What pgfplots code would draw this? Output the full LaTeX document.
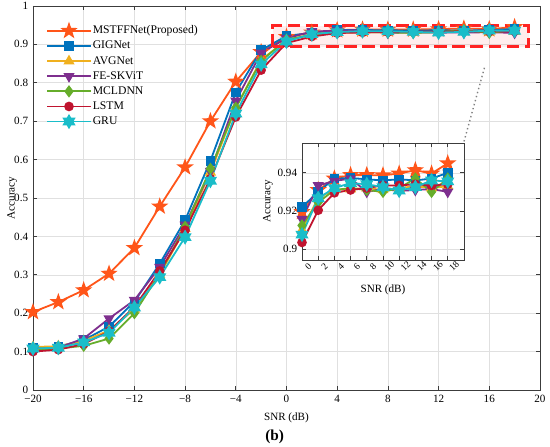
\documentclass[border=0pt]{standalone}
\usepackage{fontspec}
\setmainfont{Liberation Serif}
\usepackage{pgfplots}
\usepackage{pgfplotstable}
\pgfplotsset{compat=1.18}

\definecolor{cMST}{RGB}{255,85,25}
\definecolor{cGIG}{RGB}{0,114,189}
\definecolor{cAVG}{RGB}{240,176,30}
\definecolor{cFES}{RGB}{126,47,142}
\definecolor{cMCL}{RGB}{102,173,43}
\definecolor{cLST}{RGB}{192,20,47}
\definecolor{cGRU}{RGB}{26,189,201}
\definecolor{axgray}{RGB}{60,60,60}

\pgfdeclareplotmark{pentagram}{%
  \pgfpathmoveto{\pgfpointpolar{90}{\pgfplotmarksize}}%
  \pgfpathlineto{\pgfpointpolar{126}{0.40\pgfplotmarksize}}%
  \pgfpathlineto{\pgfpointpolar{162}{\pgfplotmarksize}}%
  \pgfpathlineto{\pgfpointpolar{198}{0.40\pgfplotmarksize}}%
  \pgfpathlineto{\pgfpointpolar{234}{\pgfplotmarksize}}%
  \pgfpathlineto{\pgfpointpolar{270}{0.40\pgfplotmarksize}}%
  \pgfpathlineto{\pgfpointpolar{306}{\pgfplotmarksize}}%
  \pgfpathlineto{\pgfpointpolar{342}{0.40\pgfplotmarksize}}%
  \pgfpathlineto{\pgfpointpolar{18}{\pgfplotmarksize}}%
  \pgfpathlineto{\pgfpointpolar{54}{0.40\pgfplotmarksize}}%
  \pgfpathclose
  \pgfusepathqfillstroke}
\pgfdeclareplotmark{hexagram}{%
  \pgfpathmoveto{\pgfpointpolar{90}{\pgfplotmarksize}}%
  \pgfpathlineto{\pgfpointpolar{120}{0.577\pgfplotmarksize}}%
  \pgfpathlineto{\pgfpointpolar{150}{\pgfplotmarksize}}%
  \pgfpathlineto{\pgfpointpolar{180}{0.577\pgfplotmarksize}}%
  \pgfpathlineto{\pgfpointpolar{210}{\pgfplotmarksize}}%
  \pgfpathlineto{\pgfpointpolar{240}{0.577\pgfplotmarksize}}%
  \pgfpathlineto{\pgfpointpolar{270}{\pgfplotmarksize}}%
  \pgfpathlineto{\pgfpointpolar{300}{0.577\pgfplotmarksize}}%
  \pgfpathlineto{\pgfpointpolar{330}{\pgfplotmarksize}}%
  \pgfpathlineto{\pgfpointpolar{0}{0.577\pgfplotmarksize}}%
  \pgfpathlineto{\pgfpointpolar{30}{\pgfplotmarksize}}%
  \pgfpathlineto{\pgfpointpolar{60}{0.577\pgfplotmarksize}}%
  \pgfpathclose
  \pgfusepathqfillstroke}

\pgfplotstableread{
x   mst    gig    avg    fes    mcl    lstm   gru
-20 0.203  0.110  0.112  0.105  0.105  0.100  0.108
-18 0.229  0.113  0.114  0.110  0.108  0.105  0.110
-16 0.260  0.130  0.128  0.134  0.115  0.120  0.124
-14 0.303  0.165  0.155  0.186  0.134  0.153  0.149
-12 0.370  0.230  0.210  0.234  0.200  0.216  0.215
-10 0.478  0.329  0.300  0.320  0.303  0.310  0.294
-8  0.580  0.442  0.420  0.430  0.425  0.416  0.398
-6  0.700  0.597  0.567  0.570  0.576  0.550  0.545
-4  0.803  0.775  0.735  0.753  0.735  0.711  0.720
-2  0.880  0.885  0.860  0.878  0.857  0.833  0.848
0   0.9195 0.9220 0.9100 0.9157 0.9124 0.9035 0.9076
2   0.9310 0.9300 0.9270 0.9334 0.9245 0.9204 0.9267
4   0.9370 0.9370 0.9310 0.9357 0.9310 0.9295 0.9320
6   0.9388 0.9373 0.9315 0.9370 0.9320 0.9310 0.9346
8   0.9388 0.9366 0.9320 0.9300 0.9310 0.9320 0.9340
10  0.9387 0.9360 0.9310 0.9315 0.9300 0.9334 0.9325
12  0.9396 0.9366 0.9320 0.9305 0.9320 0.9334 0.9307
14  0.9414 0.9360 0.9330 0.9310 0.9370 0.9340 0.9325
16  0.9396 0.9370 0.9320 0.9315 0.9300 0.9334 0.9360
18  0.9450 0.9400 0.9330 0.9300 0.9370 0.9340 0.9355
}\data

\pgfplotsset{
  every axis/.append style={
    /pgf/number format/assume math mode=true,
    tick label style={font=\fontsize{8}{9.6}\selectfont},
    label style={font=\fontsize{8}{9.6}\selectfont},
    axis line style={axgray, line width=0.5pt},
    tick style={axgray, line width=0.5pt},
    tick align=inside,
    major tick length=3pt,
    grid=major,
    grid style={black!12, line width=0.4pt},
  },
  sMST/.style={color=cMST, line width=1.3pt, mark=pentagram, mark size=4.6pt, mark options={fill=cMST}},
  sGIG/.style={color=cGIG, line width=1.3pt, mark=square*, mark size=2.8pt, mark options={fill=cGIG}},
  sAVG/.style={color=cAVG, line width=1.3pt, mark=triangle*, mark size=3.4pt, mark options={fill=cAVG}},
  sFES/.style={color=cFES, line width=1.3pt, mark=triangle*, mark size=3.4pt, mark options={fill=cFES, rotate=180}},
  sMCL/.style={color=cMCL, line width=1.3pt, mark=diamond*, mark size=3.4pt, mark options={fill=cMCL}},
  sLST/.style={color=cLST, line width=1.3pt, mark=*, mark size=2.8pt, mark options={fill=cLST}},
  sGRU/.style={color=cGRU, line width=1.3pt, mark=hexagram, mark size=4.2pt, mark options={fill=cGRU}},
}

\begin{document}
\begin{tikzpicture}
\useasboundingbox (0,0) rectangle (396pt,321.12pt);
\begin{axis}[
  at={(23.76pt,40.32pt)}, anchor=south west,
  scale only axis, width=365pt, height=276.5pt,
  xmin=-20, xmax=20, ymin=0, ymax=1,
  xtick={-20,-16,...,20},
  xticklabels={−20,−16,−12,−8,−4,0,4,8,12,16,20},
  ytick={0,0.1,...,1.01},
  yticklabels={0,0.1,0.2,0.3,0.4,0.5,0.6,0.7,0.8,0.9,1},
  xlabel={SNR (dB)}, ylabel={Accuracy},
  xlabel style={at={(axis description cs:0.5,-0.073)}, anchor=center},
  ylabel style={at={(axis description cs:-0.041,0.5)}, anchor=center},
  legend style={at={(axis description cs:0.018,0.96)}, anchor=north west,
    draw=none, fill=none, font=\fontsize{8.4}{9}\selectfont,
    row sep=1.8pt, nodes={inner sep=1pt}},
  legend cell align=left,
  legend image code/.code={\draw[mark repeat=2,mark phase=2,#1] plot coordinates {(0pt,0pt) (15.5pt,0pt) (31pt,0pt)};},
]
\fill[red, fill opacity=0.07] (axis cs:-1.1,0.894) rectangle (axis cs:19.1,0.948);
\addplot[sMST] table[x=x,y=mst] {\data};
\addlegendentry{MSTFFNet(Proposed)}
\addplot[sGIG] table[x=x,y=gig] {\data};
\addlegendentry{GIGNet}
\addplot[sAVG] table[x=x,y=avg] {\data};
\addlegendentry{AVGNet}
\addplot[sFES] table[x=x,y=fes] {\data};
\addlegendentry{FE-SKViT}
\addplot[sMCL] table[x=x,y=mcl] {\data};
\addlegendentry{MCLDNN}
\addplot[sLST] table[x=x,y=lstm] {\data};
\addlegendentry{LSTM}
\addplot[sGRU] table[x=x,y=gru] {\data};
\addlegendentry{GRU}
\draw[color={rgb,255:red,255;green,35;blue,35}, line width=2.2pt, dash pattern=on 9pt off 4pt] (axis cs:-1.1,0.894) rectangle (axis cs:19.1,0.948);
\draw[gray, line width=1pt, dotted] (axis cs:15.62,0.839) -- (axis cs:13.96,0.6416);
\end{axis}

\begin{axis}[
  at={(217.44pt,133.92pt)}, anchor=south west,
  scale only axis, width=116.6pt, height=84.2pt,
  axis background/.style={fill=white},
  xmin=0, xmax=20, ymin=0.8943, ymax=0.9556,
  xtick={0,2,...,18},
  ytick={0.9,0.92,0.94},
  yticklabels={0.9,0.92,0.94},
  xticklabel style={rotate=45, anchor=center, yshift=-6.5pt, inner sep=0pt, font=\fontsize{6.8}{7}\selectfont},
  xlabel={SNR (dB)}, ylabel={Accuracy},
  xlabel style={at={(axis description cs:0.5,-0.256)}, anchor=center},
  ylabel style={at={(axis description cs:-0.21,0.5)}, anchor=center},
]
\addplot[sMST] table[x=x,y=mst, restrict x to domain=0:20] {\data};
\addplot[sGIG] table[x=x,y=gig, restrict x to domain=0:20] {\data};
\addplot[sAVG] table[x=x,y=avg, restrict x to domain=0:20] {\data};
\addplot[sFES] table[x=x,y=fes, restrict x to domain=0:20] {\data};
\addplot[sMCL] table[x=x,y=mcl, restrict x to domain=0:20] {\data};
\addplot[sLST] table[x=x,y=lstm, restrict x to domain=0:20] {\data};
\addplot[sGRU] table[x=x,y=gru, restrict x to domain=0:20] {\data};
\end{axis}

\node[font=\bfseries\fontsize{11}{13}\selectfont] at (197.7pt,6.5pt) {(b)};
\end{tikzpicture}
\end{document}
